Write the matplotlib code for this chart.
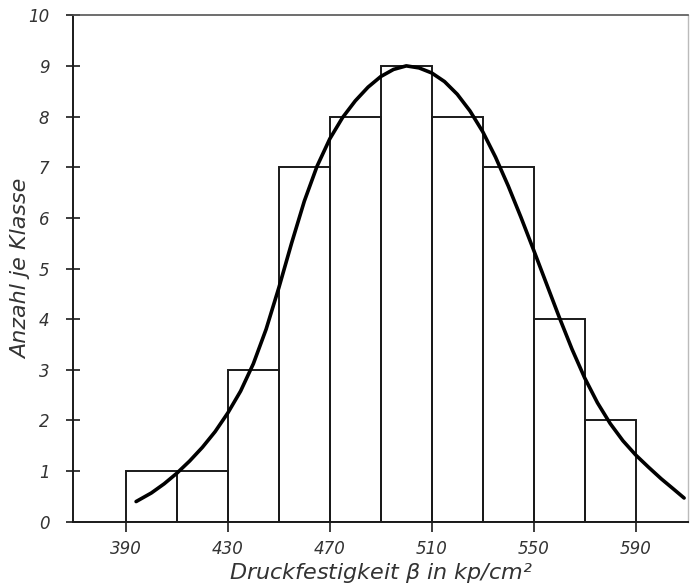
import numpy as np
import matplotlib.pyplot as plt

# class edges (kp/cm^2) and counts per class
edges = [390, 410, 430, 450, 470, 490, 510, 530, 550, 570, 590]
counts = [1, 1, 3, 7, 8, 9, 8, 7, 4, 2]

# drawn distribution curve
curve_x = [394, 400, 405, 410, 415, 420, 425, 430, 435, 440, 445, 450, 455,
           460, 465, 470, 475, 480, 485, 490, 495, 500, 505, 510, 515, 520,
           525, 530, 535, 540, 545, 550, 555, 560, 565, 570, 575, 580, 585,
           590, 595, 600, 605, 609]
curve_y = [0.40, 0.57, 0.75, 0.96, 1.20, 1.47, 1.78, 2.15, 2.58, 3.12, 3.80,
           4.62, 5.50, 6.33, 7.02, 7.56, 7.98, 8.31, 8.58, 8.79, 8.93, 9.00,
           8.96, 8.86, 8.69, 8.44, 8.11, 7.70, 7.20, 6.63, 6.01, 5.36, 4.70,
           4.04, 3.41, 2.84, 2.35, 1.94, 1.60, 1.32, 1.08, 0.85, 0.64, 0.47]

xticks = [390, 430, 470, 510, 550, 590]
yticks = list(range(0, 11))

plt.rcParams['font.family'] = 'DejaVu Sans'
plt.rcParams['font.style'] = 'italic'

fig = plt.figure(figsize=(6.9, 5.85), dpi=100)
ax = fig.add_axes([0.106, 0.108, 0.891, 0.866])

ink = '#1a1a1a'
left = np.array(edges[:-1])
width = np.diff(edges)
ax.bar(left, counts, width=width, align='edge', facecolor='none',
       edgecolor=ink, linewidth=1.4)

ax.plot(curve_x, curve_y, color='black', linewidth=2.6,
        solid_capstyle='round', solid_joinstyle='round')

ax.set_xlim(369.3, 610.5)
ax.set_ylim(0, 10)
ax.set_xticks(xticks)
ax.set_yticks(yticks)

for s in ['left', 'bottom']:
    ax.spines[s].set_color(ink)
    ax.spines[s].set_linewidth(1.4)
ax.spines['top'].set_color('#555555')
ax.spines['top'].set_linewidth(1.2)
ax.spines['right'].set_color('#bbbbbb')
ax.spines['right'].set_linewidth(1.0)

ax.tick_params(axis='y', direction='inout', length=10, width=1.2,
               color=ink, labelsize=12, labelcolor='#333333', pad=12)
ax.tick_params(axis='x', direction='out', length=7, width=1.2,
               color=ink, labelsize=12, labelcolor='#333333', pad=6)

ax.set_xlabel('Druckfestigkeit $\\beta$ in kp/cm²', fontsize=16,
              color='#333333')
ax.set_ylabel('Anzahl je Klasse', fontsize=16, color='#333333')
ax.xaxis.set_label_coords(0.5, -0.077)
ax.yaxis.set_label_coords(-0.069, 0.5)

fig.savefig('out.png', dpi=100)
